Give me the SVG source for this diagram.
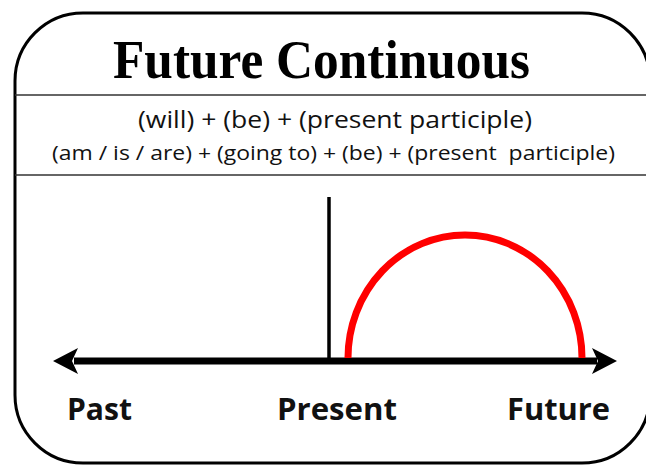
<svg xmlns="http://www.w3.org/2000/svg" width="646" height="465" viewBox="0 0 646 465">
  <defs>
    <style>
      .frame { fill: #fff; stroke: #000; stroke-width: 3; }
      .divider { stroke: #333; stroke-width: 1.5; }
      .title { font-family: "Liberation Serif", "Times New Roman", serif; font-weight: bold; font-size: 55px; fill: #000; }
      .formula { font-family: "Open Sans", "Liberation Sans", Arial, sans-serif; fill: #111; }
      .label { font-family: "Open Sans", "Liberation Sans", Arial, sans-serif; font-weight: bold; font-size: 31px; fill: #111; }
      .axis { stroke: #000; stroke-width: 7; fill: none; }
      .head { fill: #000; stroke: none; }
      .now { stroke: #000; stroke-width: 3.5; }
      .span { stroke: #ff0000; stroke-width: 7; fill: none; }
    </style>
  </defs>
  <rect x="0" y="0" width="646" height="465" fill="#fff"/>
  <g id="frame">
    <rect class="frame" x="15" y="13" width="635" height="450" rx="68" ry="68"/>
    <line class="divider" x1="15" y1="95" x2="646" y2="95"/>
    <line class="divider" x1="15" y1="175" x2="646" y2="175"/>
  </g>
  <g id="title">
    <text class="title" x="113" y="78" textLength="417" lengthAdjust="spacingAndGlyphs">Future Continuous</text>
  </g>
  <g id="formulas">
    <text class="formula" x="138" y="128" font-size="23" textLength="394" lengthAdjust="spacingAndGlyphs">(will) + (be) + (present participle)</text>
    <text class="formula" x="52" y="160" font-size="20" textLength="563" lengthAdjust="spacingAndGlyphs" xml:space="preserve">(am / is / are) + (going to) + (be) + (present  participle)</text>
  </g>
  <g id="connectors">
    <line class="axis" x1="74" y1="361" x2="597" y2="361"/>
    <path class="head" d="M53 361 L78 348 L72 361 L78 374 Z"/>
    <path class="head" d="M617 361 L592 348 L598 361 L592 374 Z"/>
    <line class="now" x1="329" y1="197" x2="329" y2="361"/>
    <path class="span" d="M348 358 A117 123 0 0 1 582 358"/>
  </g>
  <g id="past">
    <text class="label" x="67" y="420" textLength="65" lengthAdjust="spacingAndGlyphs">Past</text>
  </g>
  <g id="present">
    <text class="label" x="277" y="420" textLength="120" lengthAdjust="spacingAndGlyphs">Present</text>
  </g>
  <g id="future">
    <text class="label" x="507" y="420" textLength="103" lengthAdjust="spacingAndGlyphs">Future</text>
  </g>
</svg>
